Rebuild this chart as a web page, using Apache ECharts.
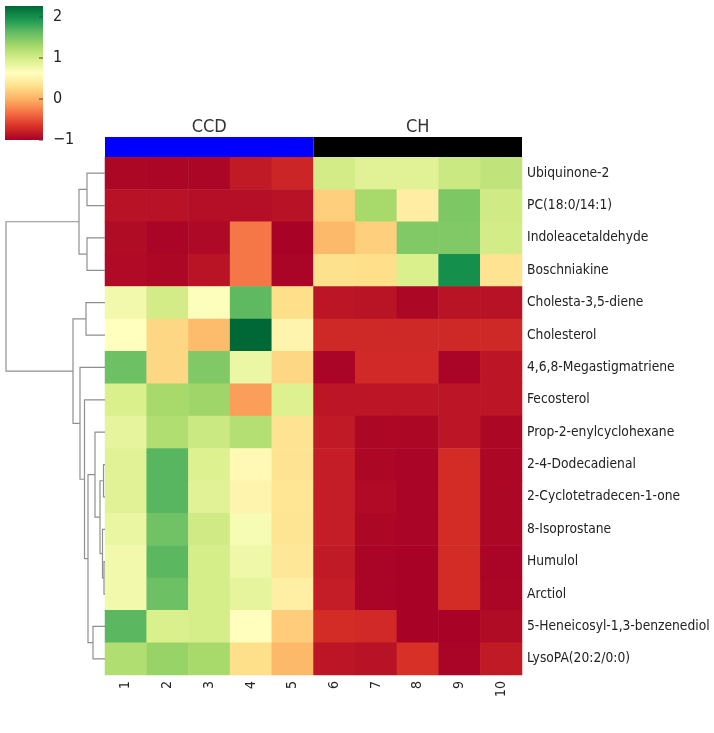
<!DOCTYPE html>
<html>
<head>
<meta charset="utf-8">
<script src="https://cdn.jsdelivr.net/npm/echarts@6/dist/echarts.min.js"></script>
<style>
    body { margin: 0; background: #fff; }
    #chart { width: 714px; height: 733px; }
</style>
</head>
<body>
<div id="chart"></div>
<script>
    // samples (columns) and compounds (rows, in dendrogram order)
    var samples = ['1', '2', '3', '4', '5', '6', '7', '8', '9', '10'];
    var compounds = ['Ubiquinone-2', 'PC(18:0/14:1)', 'Indoleacetaldehyde', 'Boschniakine',
        'Cholesta-3,5-diene', 'Cholesterol', '4,6,8-Megastigmatriene', 'Fecosterol',
        'Prop-2-enylcyclohexane', '2-4-Dodecadienal', '2-Cyclotetradecen-1-one', '8-Isoprostane',
        'Humulol', 'Arctiol', '5-Heneicosyl-1,3-benzenediol', 'LysoPA(20:2/0:0)'];
    var groups = ['CCD', 'CH'];
    var groupColors = ['#0000ff', '#000000'];

    // z-scores, one row per compound, columns 1..10
    var values = [
        [-0.95, -0.96, -0.96, -0.82, -0.75, 1.00, 0.90, 0.90, 1.05, 1.12],
        [-0.88, -0.88, -0.90, -0.90, -0.88, 0.20, 1.28, 0.45, 1.50, 1.02],
        [-0.92, -0.97, -0.94, -0.30, -0.98, 0.05, 0.20, 1.48, 1.48, 1.00],
        [-0.93, -0.95, -0.87, -0.30, -0.97, 0.32, 0.30, 0.95, 2.00, 0.35],
        [0.75, 1.00, 0.66, 1.65, 0.30, -0.85, -0.87, -0.95, -0.87, -0.88],
        [0.63, 0.25, 0.07, 2.27, 0.52, -0.73, -0.73, -0.73, -0.73, -0.73],
        [1.58, 0.25, 1.48, 0.80, 0.25, -0.97, -0.72, -0.72, -0.97, -0.85],
        [0.95, 1.28, 1.32, -0.10, 0.93, -0.85, -0.85, -0.85, -0.85, -0.85],
        [0.85, 1.22, 1.05, 1.20, 0.35, -0.82, -0.95, -0.95, -0.85, -0.95],
        [0.90, 1.68, 0.93, 0.57, 0.35, -0.80, -0.95, -0.97, -0.70, -0.95],
        [0.90, 1.68, 0.90, 0.52, 0.37, -0.80, -0.93, -0.97, -0.70, -0.95],
        [0.82, 1.56, 1.02, 0.70, 0.36, -0.80, -0.95, -0.97, -0.70, -0.95],
        [0.75, 1.66, 0.98, 0.78, 0.38, -0.82, -0.97, -0.98, -0.70, -0.97],
        [0.75, 1.58, 0.98, 0.85, 0.47, -0.80, -0.97, -0.98, -0.70, -0.96],
        [1.66, 0.95, 0.98, 0.62, 0.18, -0.70, -0.72, -0.98, -0.98, -0.92],
        [1.22, 1.36, 1.28, 0.30, 0.05, -0.85, -0.88, -0.67, -0.97, -0.82]
    ];

    // row linkage (scipy style: ids >= 16 are earlier merges)
    var linkLeft = [0, 2, 16, 4, 9, 12, 11, 20, 8, 14, 24, 7, 6, 19, 18];
    var linkRight = [1, 3, 17, 5, 10, 13, 21, 22, 23, 15, 25, 26, 27, 28, 29];
    var linkHeight = [18, 18, 26, 19, 1.5, 1, 2.5, 5, 10, 12, 17, 20.5, 25, 32, 99];

    var colorMin = -1;
    var colorMax = 2.27;
    var colorbarTicks = [-1, 0, 1, 2];
    var palette = ['#a50026', '#d73027', '#f46d43', '#fdae61', '#fee08b', '#ffffbf',
        '#d9ef8b', '#a6d96a', '#66bd63', '#1a9850', '#006837'];

    var heatData = [];
    for (var r = 0; r < values.length; r++) {
        for (var c = 0; c < values[r].length; c++) {
            heatData.push([c, r, values[r][c]]);
        }
    }

    // dendrogram links: [leftHeight, leftPos, height, rightHeight, rightPos]
    var nLeaf = compounds.length;
    var nodePos = [], nodeH = [];
    for (var i = 0; i < nLeaf; i++) { nodePos.push(i + 0.5); nodeH.push(0); }
    var dendroData = [];
    for (var k = 0; k < linkLeft.length; k++) {
        var a = linkLeft[k], b = linkRight[k];
        dendroData.push([nodeH[a], nodePos[a], linkHeight[k], nodeH[b], nodePos[b]]);
        nodePos.push((nodePos[a] + nodePos[b]) / 2);
        nodeH.push(linkHeight[k]);
    }

    var gradStops = palette.slice().reverse().map(function (col, idx) {
        return {offset: idx / (palette.length - 1), color: col};
    });

    var textColor = '#222';
    var font = '"DejaVu Sans Condensed", "DejaVu Sans"';

    var myChart = echarts.init(document.getElementById('chart'));
    var option = {
        backgroundColor: '#fff',
        animation: false,
        textStyle: {fontFamily: font},
        grid: [
            {left: 105, top: 157, width: 417, height: 518, outerBoundsMode: 'none'},
            {left: 5, top: 157, width: 100, height: 518, outerBoundsMode: 'none'},
            {left: 105, top: 137, width: 417, height: 20, outerBoundsMode: 'none'},
            {left: 5, top: 6, width: 38, height: 134, outerBoundsMode: 'none'}
        ],
        xAxis: [
            {
                type: 'category', gridIndex: 0, data: samples, position: 'bottom',
                axisLine: {show: false},
                axisTick: {length: 4, alignWithLabel: true, lineStyle: {color: '#333'}},
                axisLabel: {rotate: 90, fontSize: 14, color: textColor, margin: 6, fontFamily: font}
            },
            {type: 'value', gridIndex: 1, min: 0, max: 100, inverse: true, show: false},
            {
                type: 'category', gridIndex: 2, data: groups, position: 'top',
                axisLine: {show: false}, axisTick: {show: false},
                axisLabel: {fontSize: 18, color: '#333', margin: 1, fontFamily: font}
            },
            {type: 'value', gridIndex: 3, min: 0, max: 1, show: false}
        ],
        yAxis: [
            {
                type: 'category', gridIndex: 0, data: compounds, inverse: true, position: 'right',
                axisLine: {show: false},
                axisTick: {length: 3, alignWithLabel: true, lineStyle: {color: '#333'}},
                axisLabel: {fontSize: 13.7, color: textColor, margin: 5, fontFamily: font}
            },
            {type: 'value', gridIndex: 1, min: 0, max: nLeaf, inverse: true, show: false},
            {type: 'value', gridIndex: 2, min: 0, max: 1, show: false},
            {
                type: 'value', gridIndex: 3, min: colorMin, max: colorMax, position: 'right',
                splitLine: {show: false}, axisLine: {show: false}, axisTick: {show: false},
                axisLabel: {
                    customValues: colorbarTicks, fontSize: 16, color: textColor, margin: 10,
                    fontFamily: font,
                    formatter: function (v) { return String(v).replace('-', '\u2212'); }
                }
            }
        ],
        visualMap: {
            show: false, seriesIndex: 0, min: colorMin, max: colorMax,
            inRange: {color: palette}
        },
        series: [
            {
                type: 'heatmap', xAxisIndex: 0, yAxisIndex: 0, data: heatData,
                emphasis: {disabled: true}
            },
            {
                type: 'custom', xAxisIndex: 1, yAxisIndex: 1, data: dendroData, silent: true,
                renderItem: function (params, api) {
                    var p1 = api.coord([api.value(0), api.value(1)]);
                    var p2 = api.coord([api.value(2), api.value(1)]);
                    var p3 = api.coord([api.value(2), api.value(4)]);
                    var p4 = api.coord([api.value(3), api.value(4)]);
                    return {
                        type: 'polyline',
                        shape: {points: [p1, p2, p3, p4]},
                        style: {stroke: '#8f8f8f', lineWidth: 1.2, fill: null}
                    };
                }
            },
            {
                type: 'bar', xAxisIndex: 2, yAxisIndex: 2, barWidth: '100%', silent: true,
                data: groups.map(function (g, idx) {
                    return {value: 1, itemStyle: {color: groupColors[idx]}};
                })
            },
            {
                type: 'custom', xAxisIndex: 3, yAxisIndex: 3, data: [[0, colorMax, 1, colorMin]],
                silent: true, z: 1,
                renderItem: function (params, api) {
                    var tl = api.coord([api.value(0), api.value(1)]);
                    var br = api.coord([api.value(2), api.value(3)]);
                    return {
                        type: 'rect',
                        shape: {x: tl[0], y: tl[1], width: br[0] - tl[0], height: br[1] - tl[1]},
                        style: {fill: new echarts.graphic.LinearGradient(0, 0, 0, 1, gradStops)}
                    };
                }
            },
            {
                // colorbar tick marks on the right edge of the bar
                type: 'custom', xAxisIndex: 3, yAxisIndex: 3, silent: true, z: 3,
                data: colorbarTicks.map(function (t) { return [1, t]; }),
                renderItem: function (params, api) {
                    var p = api.coord([api.value(0), api.value(1)]);
                    return {
                        type: 'line',
                        shape: {x1: p[0] - 4, y1: p[1], x2: p[0], y2: p[1]},
                        style: {stroke: '#444', lineWidth: 1}
                    };
                }
            }
        ]
    };
    myChart.setOption(option);
</script>
</body>
</html>
